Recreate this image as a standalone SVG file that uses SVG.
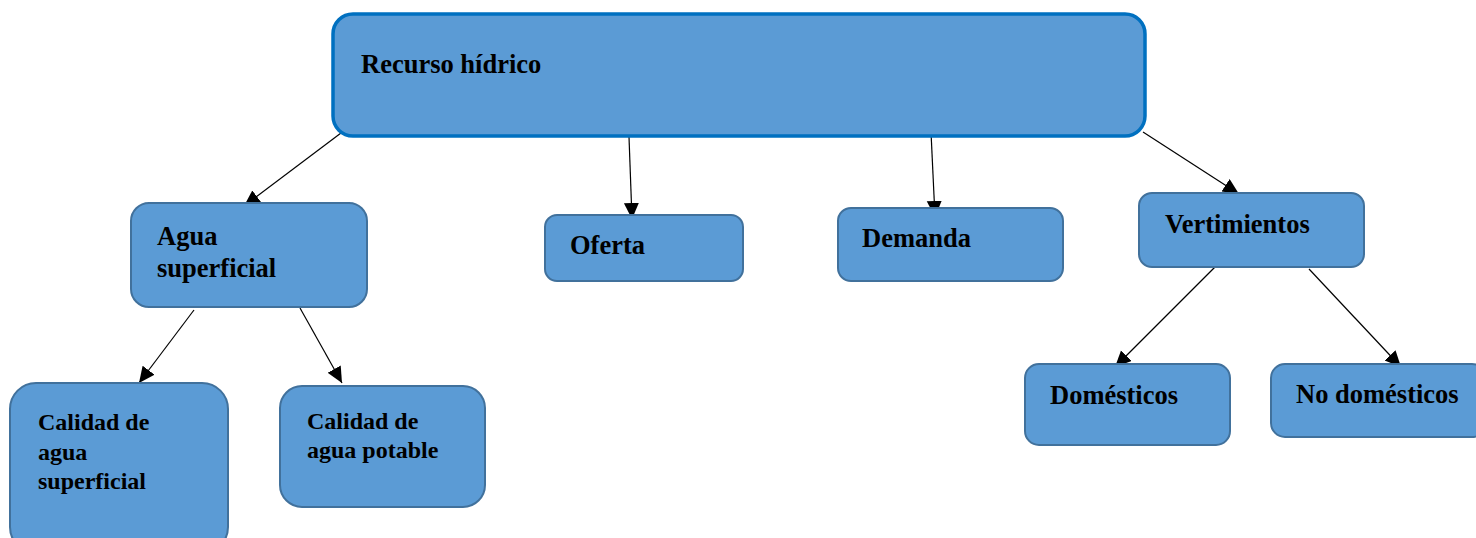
<svg xmlns="http://www.w3.org/2000/svg" width="1476" height="538" viewBox="0 0 1476 538">
<style>
.box{fill:#5B9BD5;stroke:#41719C;stroke-width:2}
.main{fill:#5B9BD5;stroke:#0070C0;stroke-width:3.5}
.t{font-family:"Liberation Serif","Times New Roman",serif;font-weight:bold;font-size:26.5px;fill:#000}
.s{font-size:24px}
.c{stroke:#000;stroke-width:1.2;fill:none;marker-end:url(#ah)}
</style>
<defs>
<marker id="ah" markerUnits="userSpaceOnUse" markerWidth="18" markerHeight="16" refX="16" refY="7.5" orient="auto">
<path d="M0,0 L16,7.5 L0,15 z" fill="#000"/>
</marker>
</defs>
<rect width="1476" height="538" fill="#fff"/>
<g id="connectors">
<line class="c" x1="341" y1="133" x2="244" y2="206"/>
<line class="c" x1="629" y1="137" x2="632" y2="219"/>
<line class="c" x1="931" y1="132" x2="935" y2="217"/>
<line class="c" x1="1143" y1="132" x2="1239" y2="194"/>
<line class="c" x1="194" y1="310" x2="139" y2="383"/>
<line class="c" x1="300" y1="308" x2="342" y2="383"/>
<line class="c" x1="1219" y1="263" x2="1115" y2="367"/>
<line class="c" x1="1309" y1="269" x2="1401" y2="367"/>
</g>
<g id="recurso">
<rect class="main" x="333" y="14" width="812" height="122" rx="20"/>
<text class="t" x="361" y="73">Recurso hídrico</text>
</g>
<g id="agua-superficial">
<rect class="box" x="131" y="203" width="236" height="104" rx="18"/>
<text class="t" x="157" y="245">Agua</text>
<text class="t" x="157" y="277">superficial</text>
</g>
<g id="oferta">
<rect class="box" x="545" y="215" width="198" height="66" rx="12"/>
<text class="t" x="570" y="254">Oferta</text>
</g>
<g id="demanda">
<rect class="box" x="838" y="208" width="225" height="73" rx="13"/>
<text class="t" x="862" y="247">Demanda</text>
</g>
<g id="vertimientos">
<rect class="box" x="1139" y="193" width="225" height="74" rx="13"/>
<text class="t" x="1165" y="233">Vertimientos</text>
</g>
<g id="calidad-superficial">
<rect class="box" x="10" y="383" width="218" height="170" rx="26"/>
<text class="t s" x="38" y="430">Calidad de</text>
<text class="t s" x="38" y="460">agua</text>
<text class="t s" x="38" y="489">superficial</text>
</g>
<g id="calidad-potable">
<rect class="box" x="280" y="386" width="205" height="121" rx="22"/>
<text class="t s" x="307" y="429">Calidad de</text>
<text class="t s" x="307" y="458">agua potable</text>
</g>
<g id="domesticos">
<rect class="box" x="1025" y="364" width="205" height="81" rx="14"/>
<text class="t" x="1050" y="404">Domésticos</text>
</g>
<g id="no-domesticos">
<rect class="box" x="1271" y="364" width="215" height="73" rx="14"/>
<text class="t" x="1296" y="403">No domésticos</text>
</g>
</svg>
